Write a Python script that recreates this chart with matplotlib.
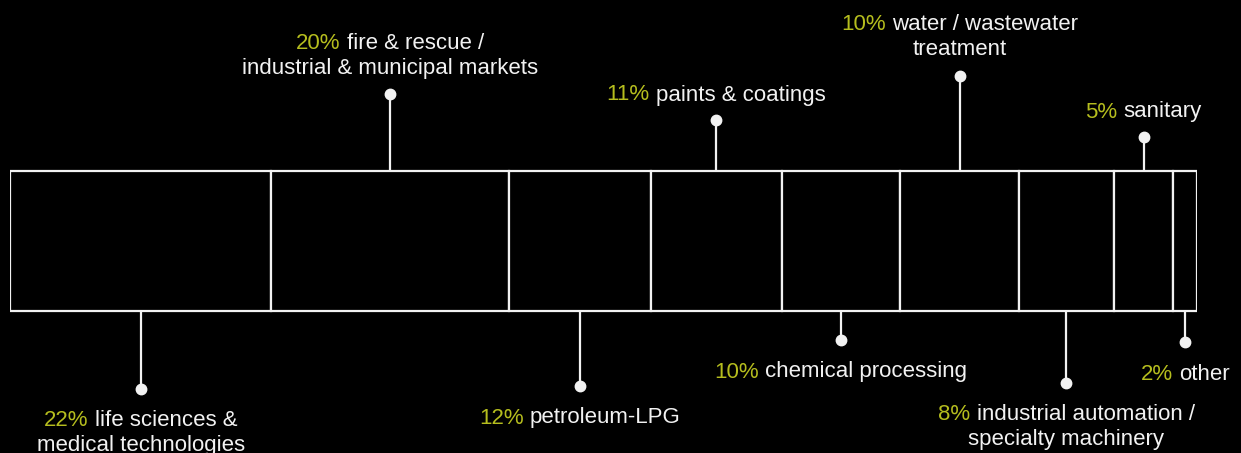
import matplotlib
matplotlib.use('Agg')
import matplotlib.pyplot as plt
from matplotlib.offsetbox import TextArea, HPacker, VPacker, AnnotationBbox

pcts = [22, 20, 12, 11, 10, 10, 8, 5, 2]
first_lines = ['life sciences &', 'fire & rescue /', 'petroleum-LPG', 'paints & coatings',
               'chemical processing', 'water / wastewater', 'industrial automation /',
               'sanitary', 'other']
second_lines = ['medical technologies', 'industrial & municipal markets', '', '',
                '', 'treatment', 'specialty machinery', '', '']
# leader side and length (pixel units of the layout), label centre
sides = ['down', 'up', 'down', 'up', 'down', 'up', 'down', 'up', 'down']
dot_y = [389, 94, 386, 120, 340, 76, 383, 137, 342]
label_y = [433, 56, 418, 95, 372, 37, 427, 112, 374]

BG = '#000000'
FG = '#f2f2f2'
ACCENT = '#b5bd1e'
FONT = 'Liberation Sans'
FS = 16

W, H = 1241, 453
fig = plt.figure(figsize=(W / 100, H / 100), dpi=100, facecolor=BG)
ax = fig.add_axes([10 / W, 0, 1187 / W, 1])
ax.set_facecolor(BG)
ax.set_xlim(0, sum(pcts))
ax.set_ylim(H, 0)
ax.axis('off')

bar_top, bar_bot = 171, 311
lefts = [sum(pcts[:i]) for i in range(len(pcts))]
ax.barh([(bar_top + bar_bot) / 2] * len(pcts), pcts, left=lefts, height=bar_bot - bar_top,
        color=BG, edgecolor=FG, linewidth=1.6)

for i, p in enumerate(pcts):
    xc = lefts[i] + p / 2
    y0 = bar_bot if sides[i] == 'down' else bar_top
    ax.plot([xc, xc], [y0, dot_y[i]], color=FG, lw=1.6, solid_capstyle='butt')
    ax.plot([xc], [dot_y[i]], 'o', color=FG, ms=7.5)

    props = dict(fontsize=FS, family=FONT)
    line1 = HPacker(children=[TextArea(f'{p}%', textprops=dict(color=ACCENT, **props)),
                              TextArea(first_lines[i], textprops=dict(color=FG, **props))],
                    sep=4.5, pad=0, align='baseline')
    rows = [line1]
    if second_lines[i]:
        rows.append(TextArea(second_lines[i], textprops=dict(color=FG, **props)))
    box = VPacker(children=rows, sep=3.5, pad=0, align='center')
    ab = AnnotationBbox(box, (xc, label_y[i]), xycoords='data', box_alignment=(0.5, 0.5),
                        frameon=False, pad=0)
    ax.add_artist(ab)

fig.savefig('out.png', dpi=100, facecolor=BG)
